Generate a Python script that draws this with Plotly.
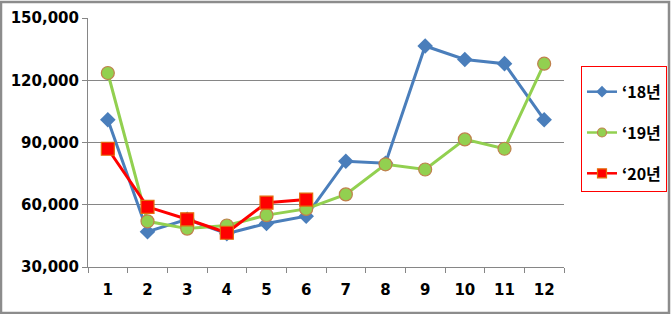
import plotly.graph_objects as go

months = ["1", "2", "3", "4", "5", "6", "7", "8", "9", "10", "11", "12"]
y18 = [101000, 47000, 53000, 46000, 51000, 54500, 81000, 80000, 136500, 130000, 128000, 101000]
y19 = [123500, 52000, 48500, 50000, 55000, 58000, 65000, 79500, 77000, 91500, 87000, 128000]
y20 = [87000, 59000, 53000, 46500, 61000, 62500]
names = ["\u201818\ub144", "\u201819\ub144", "\u201820\ub144"]
yticks = [30000, 60000, 90000, 120000, 150000]

series = [
    (y18, names[0], "#4a7ebb", "diamond", 12, None),
    (y19, names[1], "#92d050", "circle", 13, "#c0804d"),
    (y20, names[2], "#ff0000", "square", 13, "#e46c0a"),
]

fig = go.Figure()
for i, (vals, nm, col, sym, sz, edge) in enumerate(series):
    mline = dict(color=edge, width=1.2) if edge else dict(width=0)
    fig.add_trace(go.Scatter(x=months[:len(vals)], y=vals, name=nm, mode="lines+markers",
                             showlegend=False,
                             line=dict(color=col, width=3),
                             marker=dict(symbol=sym, size=sz, color=col, line=mline)))
    # legend-only proxy with the smaller legend symbol
    fig.add_trace(go.Scatter(x=[None], y=[None], name=nm, mode="lines+markers",
                             legendgroup="g%d" % i,
                             line=dict(color=col, width=2.5),
                             marker=dict(symbol=sym, size=9, color=col, line=mline)))

L, R, T, B = 88, 107, 18, 47
W, H = 671, 314
pw, ph = W - L - R, H - T - B

fig.update_layout(
    width=W, height=H,
    margin=dict(l=L, r=R, t=T, b=B, pad=0, autoexpand=False),
    paper_bgcolor="white", plot_bgcolor="white",
    font=dict(family="Noto Sans CJK KR, DejaVu Sans", color="black"),
    showlegend=True,
    legend=dict(
        x=(581 - L) / pw, y=(H - B - 66) / ph, xanchor="left", yanchor="top",
        bordercolor="#ff0000", borderwidth=1, bgcolor="white",
        font=dict(size=16, family="Noto Sans CJK KR", weight="bold"),
        traceorder="grouped", tracegroupgap=17, itemwidth=30,
        title=dict(text=" ", font=dict(size=6)),
    ),
    xaxis=dict(
        type="category", range=[-0.5, 11.5], showgrid=False,
        showline=True, linecolor="#868686", linewidth=1,
        ticks="outside", tickson="boundaries", ticklen=5, tickcolor="#868686",
        ticklabelstandoff=9,
        tickfont=dict(size=15, family="Verdana, DejaVu Sans", weight="bold"),
    ),
    yaxis=dict(
        range=[30000, 150000], tickvals=yticks, tickformat=",d",
        showgrid=True, gridcolor="#868686", gridwidth=1,
        showline=True, linecolor="#868686", linewidth=1,
        ticks="outside", ticklen=5, tickcolor="#868686",
        tickfont=dict(size=15, family="Verdana, DejaVu Sans", weight="bold"),
        zeroline=False,
    ),
    shapes=[dict(type="rect", xref="paper", yref="paper",
                 x0=(1 - L) / pw, x1=(W - 2 - L) / pw,
                 y0=(1 - B) / ph, y1=(H - 2 - B) / ph,
                 line=dict(color="#8c8c8c", width=2.5), layer="above")],
)

fig.write_html("out.html")
